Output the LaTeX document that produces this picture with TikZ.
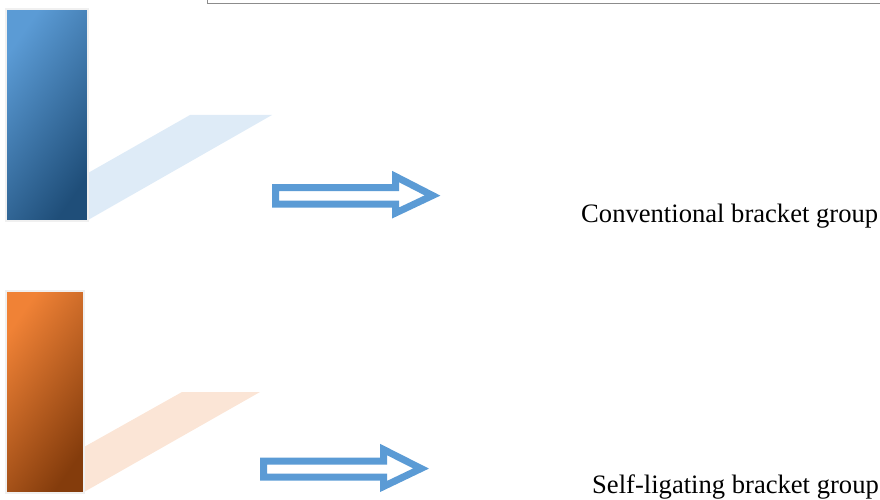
\documentclass[tikz,border=0pt]{standalone}
\usepackage{fontspec}
\setmainfont{Liberation Serif}
\definecolor{barblue}{HTML}{5B9BD5}
\definecolor{bardarkblue}{HTML}{1F4E79}
\definecolor{barorange}{HTML}{F08236}
\definecolor{bardarkorange}{HTML}{843C0C}
\definecolor{shadowblue}{HTML}{DEEBF7}
\definecolor{shadoworange}{HTML}{FBE5D6}
\definecolor{framegray}{HTML}{8C8C8C}
\tikzstyle{bar} = [draw=black!6,line width=2pt,inner sep=0pt]
\tikzstyle{outline arrow} = [draw=barblue,fill=white,line width=7pt,line join=miter]
\tikzstyle{group} = [font=\fontsize{26.6}{32}\selectfont,inner sep=0pt,anchor=base west]

\begin{document}
\begin{tikzpicture}[x=1pt,y=-1pt]
        \useasboundingbox (0,0) rectangle (880,500);
        % frame of the box above
        \draw[framegray, line width=1.3pt] (207.5,-10) -- (207.5,3.5) -- (890,3.5);

        % shadows
        \fill[shadowblue] (88,173) -- (190,115) -- (272,115) -- (88,220) -- cycle;
        \fill[shadoworange] (84,447) -- (182,392) -- (260,392) -- (84,492) -- cycle;

        % bars
        \node[bar, top color=barblue, bottom color=bardarkblue, shading angle=55, minimum width=82pt, minimum height=212pt] at (47.3,115) (conv bar) {};
        \node[bar, top color=barorange, bottom color=bardarkorange, shading angle=55, minimum width=78pt, minimum height=202pt] at (45.3,391.7) (self bar) {};

        % arrows
        \draw[outline arrow] (275.5,187.5) -- (395.5,187.5) -- (395.5,176.5) -- (432.5,195.5)
            -- (395.5,213) -- (395.5,204) -- (275.5,204) -- cycle;
        \draw[outline arrow] (263.5,461) -- (383.5,461) -- (383.5,449.5) -- (421,468.5)
            -- (383.5,486.5) -- (383.5,477) -- (263.5,477) -- cycle;

        % labels
        \node[group] at (581,222) (conv) {Conventional bracket group};
        \node[group] at (592,493) (self) {Self-ligating bracket group};
\end{tikzpicture}
\end{document}
